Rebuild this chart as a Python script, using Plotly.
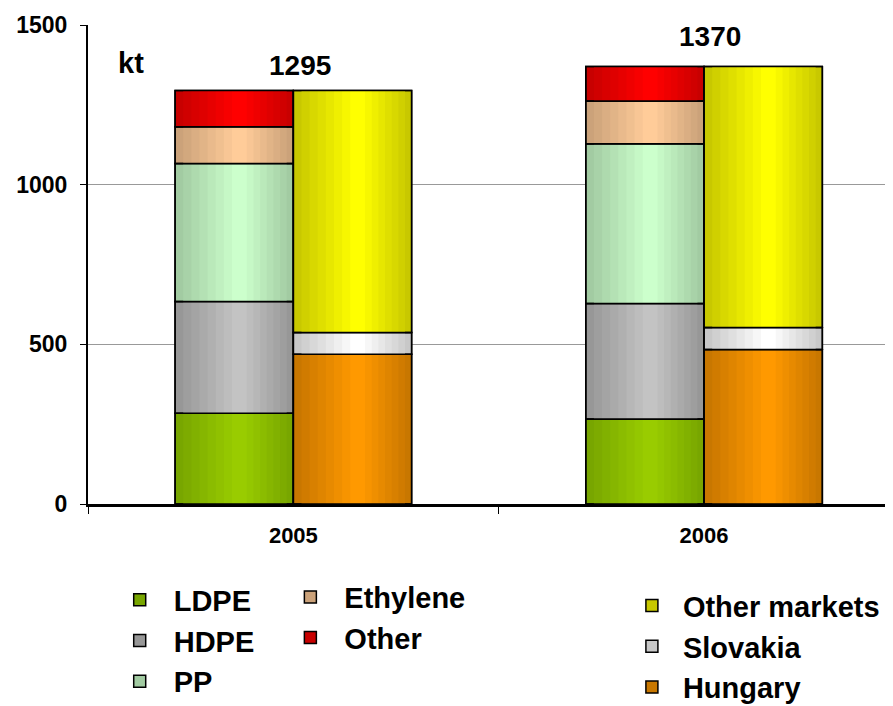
import plotly.graph_objects as go

# data (kt)
years = ['2005', '2006']
ldpe = [284, 266]
hdpe = [350, 362]
pp = [432, 500]
ethylene = [115, 134]
other = [114, 108]
hungary = [469, 484]
slovakia = [68, 69]
other_markets = [758, 817]

BAR_W = 0.288
STEPS = 8
FONT = 'Liberation Sans, Arial, sans-serif'


def mix(edge, center, t):
    r, g, b = [round(e + (c - e) * t) for e, c in zip(edge, center)]
    return f'rgb({r},{g},{b})'


def add_series(fig, name, vals, base, left, edge, center, legend):
    # fake horizontal gradient: nested bars getting narrower and lighter
    for k in range(STEPS):
        w = BAR_W * (1 - k / STEPS)
        off = left + (BAR_W - w) * 0.55
        t = 0.35 + 0.65 * k / (STEPS - 1)
        fig.add_trace(go.Bar(
            x=years, y=vals, base=base, width=w, offset=off,
            name=name, legendgroup=name, legend=legend,
            showlegend=(k == 0),
            marker=dict(color=mix(edge, center, t),
                        line=dict(color='black', width=1.5 if k == 0 else 0)),
            hoverinfo='x+y+name' if k == 0 else 'skip',
        ))
    # outline on top
    fig.add_trace(go.Bar(
        x=years, y=vals, base=base, width=BAR_W, offset=left,
        showlegend=False, hoverinfo='skip', legendgroup=name,
        marker=dict(color='rgba(0,0,0,0)', line=dict(color='black', width=1.5)),
    ))


fig = go.Figure()

left_stack = [
    ('LDPE', ldpe, (102, 145, 0), (153, 204, 0), 'legend'),
    ('HDPE', hdpe, (128, 128, 128), (195, 195, 195), 'legend'),
    ('PP', pp, (140, 175, 140), (204, 255, 204), 'legend'),
    ('Ethylene', ethylene, (175, 140, 105), (255, 204, 153), 'legend2'),
    ('Other', other, (170, 0, 0), (255, 0, 0), 'legend2'),
]
right_stack = [
    ('Hungary', hungary, (170, 100, 0), (255, 153, 0), 'legend3'),
    ('Slovakia', slovakia, (170, 170, 170), (255, 255, 255), 'legend3'),
    ('Other markets', other_markets, (170, 170, 0), (255, 255, 0), 'legend3'),
]

for stack, left in [(left_stack, -BAR_W), (right_stack, 0)]:
    base = [0, 0]
    for name, vals, edge, center, leg in stack:
        add_series(fig, name, vals, list(base), left, edge, center, leg)
        base = [b + v for b, v in zip(base, vals)]

totals = [sum(v) for v in zip(ldpe, hdpe, pp, ethylene, other)]
label_y = [1372, 1464]
for i, (tot, ly) in enumerate(zip(totals, label_y)):
    fig.add_annotation(x=i + 0.015, y=ly, text=str(tot), showarrow=False,
                       xanchor='center', bgcolor='white',
                       font=dict(size=28, weight='bold'))

fig.add_annotation(x=0.053, y=1381, xref='paper', xanchor='center',
                   text='kt', showarrow=False, font=dict(size=29, weight='bold'))

leg_font = dict(size=29, weight='bold', family=FONT)
# page body has an 8px margin, so the figure is sized/offset to compensate
fig.update_layout(
    width=885, height=698,
    margin=dict(l=80, r=0, t=17, b=202, autoexpand=False),
    plot_bgcolor='white', paper_bgcolor='white',
    barmode='overlay',
    font=dict(family=FONT, color='black'),
    legend=dict(x=0.022, y=-0.147, xanchor='left', yanchor='top',
                traceorder='normal', itemwidth=58, font=leg_font,
                bgcolor='rgba(0,0,0,0)'),
    legend2=dict(x=0.234, y=-0.141, xanchor='left', yanchor='top',
                 traceorder='normal', itemwidth=58, font=leg_font,
                 bgcolor='rgba(0,0,0,0)'),
    legend3=dict(x=0.662, y=-0.159, xanchor='left', yanchor='top',
                 traceorder='reversed', itemwidth=52, font=leg_font,
                 bgcolor='rgba(0,0,0,0)'),
)
fig.update_xaxes(
    type='category', range=[-0.5, 1.46],
    showline=True, linecolor='black', linewidth=3,
    ticks='outside', tickson='boundaries', ticklen=7, tickcolor='black',
    tickfont=dict(size=22, weight='bold'), ticklabelstandoff=10,
    showgrid=False,
)
fig.update_yaxes(
    range=[0, 1500], tickvals=[0, 500, 1000, 1500],
    showgrid=True, gridcolor='#999999', gridwidth=1, zeroline=False,
    showline=True, linecolor='black', linewidth=2,
    ticks='outside', ticklen=6, tickcolor='black',
    tickfont=dict(size=23, weight='bold'), ticklabelstandoff=8,
)

fig.write_html('out.html')
